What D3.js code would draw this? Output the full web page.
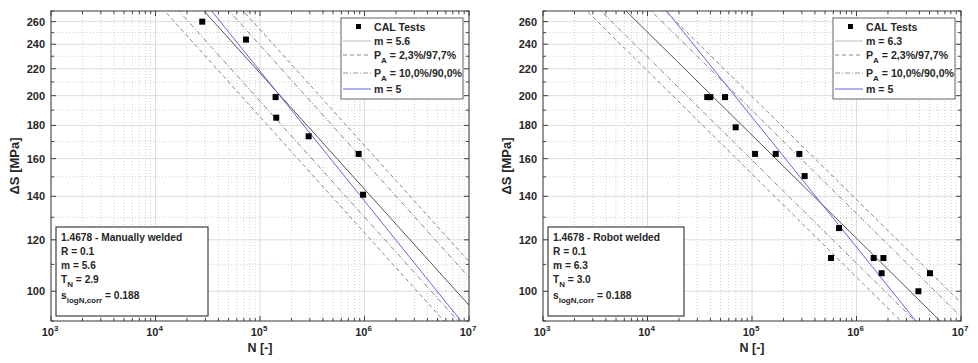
<!DOCTYPE html>
<html>
<head>
<meta charset="utf-8">
<script src="https://cdn.jsdelivr.net/npm/d3@7"></script>
<style>
  body { margin: 0; background: #fff; }
  svg { display: block; font-family: "Liberation Sans", Arial, sans-serif; }
</style>
</head>
<body>
<svg id="canvas"></svg>
<script>
// Tick values.
var xTicks = [1e3, 1e4, 1e5, 1e6, 1e7];
var yTicks = [100, 120, 140, 160, 180, 200, 220, 240, 260];

// Left panel - manually welded test results.
var leftN = [28000, 73400, 141000, 143000, 292000, 879000, 969000];
var leftS = [260, 244, 199, 185, 173.2, 162.7, 140.8];

// Right panel - robot welded test results.
var rightN = [37300, 39900, 55200, 69800, 107000, 168600, 284000, 319000,
              681000, 570000, 1460000, 1810000, 1740000, 3910000, 5050000];
var rightS = [199, 199, 199, 178.8, 162.7, 162.7, 162.7, 150.4,
              125.1, 112.5, 112.5, 112.5, 106.6, 100, 106.6];

// Fitted curves: slope m and log10 C of  log N = log C - m log S.
var leftFit = { m: 5.6, logC: 18.08 };
var rightFit = { m: 6.3, logC: 19.113 };
var leftFixed = { m: 5, logC: 16.695 };
var rightFixed = { m: 5, logC: 16.34 };
var sLogN = 0.188;

// Quantile factors for the scatter bands.
var band23 = 2.0;
var band10 = 1.2816;

// Annotation labels.
var leftInfo = ['1.4678 - Manually welded', 'R = 0.1', 'm = 5.6', ['T', 'N', ' = 2.9'], ['s', 'logN,corr', ' = 0.188']];
var rightInfo = ['1.4678 - Robot welded', 'R = 0.1', 'm = 6.3', ['T', 'N', ' = 3.0'], ['s', 'logN,corr', ' = 0.188']];

// Canvas settings.
var canvas = {
  dim: { w: 978, h: 363 },
  colours: {
    axis: '#404040',
    text: '#262626',
    grid: '#dcdcdc',
    minor: '#d0d0d0',
    fit: '#555555',
    band: '#6a6a6a',
    blue: '#6464e6'
  }
};

var svg = d3.select('#canvas')
            .attr('width', canvas.dim.w)
            .attr('height', canvas.dim.h);

// Draw one panel.
var drawPanel = function(id, x0, x1, nData, sData, fit, fixed, info, infoBox, legendBox) {

  var top = 11, bottom = 321;

  var x = d3.scaleLog().domain([1e3, 1e7]).range([x0, x1]);
  var y = d3.scaleLog().domain([90, 270]).range([bottom, top]);

  var g = svg.append('g');

  // Clip path.
  svg.append('clipPath').attr('id', 'clip' + id)
     .append('rect').attr('x', x0).attr('y', top)
     .attr('width', x1 - x0).attr('height', bottom - top);

  // Minor grid.
  var xMinor = [];
  for (var e = 3; e < 7; e++) {
    for (var k = 2; k <= 9; k++) xMinor.push(k * Math.pow(10, e));
  }
  var yMinor = d3.range(90, 271, 10).filter(function(v) { return v % 20 !== 0; });

  g.selectAll('.xminor').data(xMinor).enter().append('line')
   .attr('x1', x).attr('x2', x).attr('y1', top).attr('y2', bottom)
   .attr('stroke', canvas.colours.minor).attr('stroke-dasharray', '1,2');
  g.selectAll('.yminor').data(yMinor).enter().append('line')
   .attr('x1', x0).attr('x2', x1).attr('y1', y).attr('y2', y)
   .attr('stroke', canvas.colours.minor).attr('stroke-dasharray', '1,2');

  // Major grid.
  g.selectAll('.xgrid').data(xTicks).enter().append('line')
   .attr('x1', x).attr('x2', x).attr('y1', top).attr('y2', bottom)
   .attr('stroke', canvas.colours.grid);
  g.selectAll('.ygrid').data(yTicks).enter().append('line')
   .attr('x1', x0).attr('x2', x1).attr('y1', y).attr('y2', y)
   .attr('stroke', canvas.colours.grid);

  // Tick marks on all four sides, pointing inward.
  var ticks = g.append('g').attr('stroke', canvas.colours.axis);
  xTicks.forEach(function(v) {
    ticks.append('line').attr('x1', x(v)).attr('x2', x(v)).attr('y1', bottom).attr('y2', bottom - 5);
    ticks.append('line').attr('x1', x(v)).attr('x2', x(v)).attr('y1', top).attr('y2', top + 5);
  });
  xMinor.forEach(function(v) {
    ticks.append('line').attr('x1', x(v)).attr('x2', x(v)).attr('y1', bottom).attr('y2', bottom - 3);
    ticks.append('line').attr('x1', x(v)).attr('x2', x(v)).attr('y1', top).attr('y2', top + 3);
  });
  yTicks.forEach(function(v) {
    ticks.append('line').attr('x1', x0).attr('x2', x0 + 5).attr('y1', y(v)).attr('y2', y(v));
    ticks.append('line').attr('x1', x1).attr('x2', x1 - 5).attr('y1', y(v)).attr('y2', y(v));
  });
  yMinor.forEach(function(v) {
    ticks.append('line').attr('x1', x0).attr('x2', x0 + 3).attr('y1', y(v)).attr('y2', y(v));
    ticks.append('line').attr('x1', x1).attr('x2', x1 - 3).attr('y1', y(v)).attr('y2', y(v));
  });

  // Curves.
  var curves = g.append('g').attr('clip-path', 'url(#clip' + id + ')').attr('fill', 'none');
  var sEnds = [80, 300];
  var line = d3.line()
               .x(function(d) { return x(d[0]); })
               .y(function(d) { return y(d[1]); });
  var curvePts = function(c, shift) {
    return sEnds.map(function(s) {
      return [Math.pow(10, c.logC + shift - c.m * Math.log10(s)), s];
    });
  };
  var bands = [
    { k: -band23, dash: '4,3' }, { k: band23, dash: '4,3' },
    { k: -band10, dash: '5,2,1,2' }, { k: band10, dash: '5,2,1,2' }
  ];
  bands.forEach(function(b) {
    curves.append('path').attr('d', line(curvePts(fit, b.k * sLogN)))
          .attr('stroke', canvas.colours.band).attr('stroke-width', 0.8)
          .attr('stroke-dasharray', b.dash);
  });
  curves.append('path').attr('d', line(curvePts(fit, 0)))
        .attr('stroke', canvas.colours.fit).attr('stroke-width', 1);
  curves.append('path').attr('d', line(curvePts(fixed, 0)))
        .attr('stroke', canvas.colours.blue).attr('stroke-width', 1);

  // Test points.
  g.selectAll('.pt').data(nData).enter().append('rect')
   .attr('x', function(d) { return x(d) - 3; })
   .attr('y', function(d, i) { return y(sData[i]) - 3; })
   .attr('width', 6).attr('height', 6)
   .attr('fill', '#000');

  // Axis box.
  g.append('rect').attr('x', x0).attr('y', top)
   .attr('width', x1 - x0).attr('height', bottom - top)
   .attr('fill', 'none').attr('stroke', canvas.colours.axis);

  // Tick labels.
  var xl = g.selectAll('.xl').data(xTicks).enter().append('text')
            .attr('x', function(d) { return x(d) - 1; })
            .attr('y', 336)
            .attr('text-anchor', 'middle')
            .attr('font-size', 11).attr('font-weight', 'bold')
            .attr('fill', canvas.colours.text);
  xl.append('tspan').text('10');
  xl.append('tspan').attr('dy', -5).attr('font-size', 8)
    .text(function(d) { return Math.round(Math.log10(d)); });

  g.selectAll('.yl').data(yTicks).enter().append('text')
   .attr('x', x0 - 6).attr('y', function(d) { return y(d) + 4; })
   .attr('text-anchor', 'end')
   .attr('font-size', 11).attr('font-weight', 'bold')
   .attr('fill', canvas.colours.text)
   .text(function(d) { return d; });

  // Axis labels.
  g.append('text').attr('x', (x0 + x1) / 2).attr('y', 352)
   .attr('text-anchor', 'middle').attr('font-size', 12.5).attr('font-weight', 'bold')
   .attr('fill', canvas.colours.text).text('N [-]');
  g.append('text')
   .attr('transform', 'translate(' + (x0 - 32) + ',' + ((top + bottom) / 2) + ') rotate(-90)')
   .attr('text-anchor', 'middle').attr('font-size', 13).attr('font-weight', 'bold')
   .attr('fill', canvas.colours.text).text('\u0394S [MPa]');

  // Annotation box.
  g.append('rect').attr('x', infoBox[0]).attr('y', 227)
   .attr('width', infoBox[1]).attr('height', 89)
   .attr('fill', '#fff').attr('stroke', canvas.colours.axis).attr('stroke-width', 1.2);
  var infoY = [241, 255, 269, 283, 299];
  info.forEach(function(t, i) {
    var txt = g.append('text').attr('x', infoBox[0] + 5).attr('y', infoY[i])
               .attr('font-size', 10.2).attr('font-weight', 'bold')
               .attr('fill', canvas.colours.text);
    if (typeof t === 'string') {
      txt.text(t);
    } else {
      txt.append('tspan').text(t[0]);
      txt.append('tspan').attr('dy', 4).attr('font-size', 8).text(t[1]);
      txt.append('tspan').attr('dy', -4).text(t[2]);
    }
  });

  // Legend.
  var lx = legendBox;
  g.append('rect').attr('x', lx).attr('y', 18).attr('width', 122).attr('height', 81)
   .attr('fill', '#fff').attr('stroke', canvas.colours.axis).attr('stroke-width', 0.8);
  var legendItems = [
    { label: ['CAL Tests'], y: 27 },
    { label: ['m = ' + fit.m], y: 41, stroke: '#bdbdbd' },
    { label: ['P', 'A', ' = 2,3%/97,7%'], y: 55, stroke: '#8a8a8a', dash: '4,3' },
    { label: ['P', 'A', ' = 10,0%/90,0%'], y: 73, stroke: '#9a9a9a', dash: '5,2,1,2' },
    { label: ['m = 5'], y: 89, stroke: canvas.colours.blue }
  ];
  legendItems.forEach(function(item, i) {
    if (i === 0) {
      g.append('rect').attr('x', lx + 15).attr('y', item.y - 3).attr('width', 5).attr('height', 5)
       .attr('fill', '#000');
    } else {
      g.append('line').attr('x1', lx + 2).attr('x2', lx + 30).attr('y1', item.y).attr('y2', item.y)
       .attr('stroke', item.stroke).attr('stroke-dasharray', item.dash || null);
    }
    var txt = g.append('text').attr('x', lx + 33).attr('y', item.y + 4)
               .attr('font-size', 10.6).attr('font-weight', 'bold')
               .attr('fill', canvas.colours.text);
    txt.append('tspan').text(item.label[0]);
    if (item.label.length > 1) {
      txt.append('tspan').attr('dy', 4).attr('font-size', 8).text(item.label[1]);
      txt.append('tspan').attr('dy', -4).text(item.label[2]);
    }
  });

};

drawPanel('L', 51, 469, leftN, leftS, leftFit, leftFixed, leftInfo, [56, 152], 341);
drawPanel('R', 543, 961, rightN, rightS, rightFit, rightFixed, rightInfo, [548, 136], 833);
</script>
</body>
</html>
